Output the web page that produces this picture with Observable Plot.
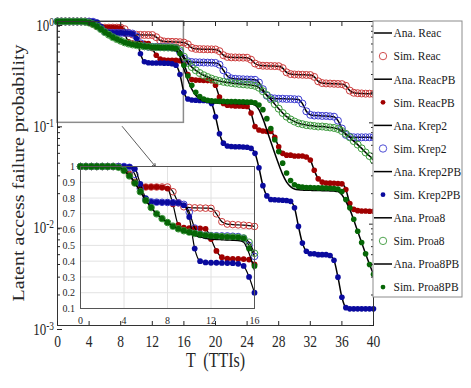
<!DOCTYPE html>
<html><head><meta charset="utf-8">
<script src="https://cdn.jsdelivr.net/npm/d3@7"></script>
<script src="https://cdn.jsdelivr.net/npm/@observablehq/plot@0.6"></script>
<style>
body{margin:0;background:#fff}
#wrap{position:relative;width:471px;height:388px;overflow:hidden}
#wrap svg{position:absolute;left:0;top:0}
</style></head><body><div id="wrap"></div>
<script>
// ---------- data ----------
const T = [0,0.5,1,1.5,2,2.5,3,3.5,4,4.5,5,5.5,6,6.5,7,7.5,8,8.5,9,9.5,10,10.5,11,11.5,12,12.5,13,13.5,14,14.5,15,15.5,16,16.5,17,17.5,18,18.5,19,19.5,20,20.5,21,21.5,22,22.5,23,23.5,24,24.5,25,25.5,26,26.5,27,27.5,28,28.5,29,29.5,30,30.5,31,31.5,32,32.5,33,33.5,34,34.5,35,35.5,36,36.5,37,37.5,38,38.5,39,39.5,40];

const reac = [1,1,1,1,1,1,1,1, 0.99,0.95,0.90,0.875,0.87, 0.87,0.87,0.87,0.87, 0.84,0.77,0.745,0.74, 0.738,0.737,0.736,0.735, 0.70,0.65,0.635,0.632,0.63,0.628,0.625,0.62, 0.595,0.55,0.537,0.534, 0.533,0.532,0.531,0.53, 0.51,0.465,0.447,0.443, 0.442,0.441,0.44,0.439, 0.42,0.385,0.37,0.366, 0.365,0.364,0.363,0.362, 0.347,0.315,0.303,0.3, 0.299,0.298,0.297,0.296, 0.284,0.257,0.247,0.245, 0.244,0.243,0.242,0.241, 0.232,0.208,0.198,0.196, 0.195,0.194,0.194,0.193];

const reacPB = [1,1,1,1,1,1,1,1, 0.99,0.95,0.90,0.875, 0.87,0.87,0.87,0.868,0.86, 0.76,0.63,0.612,0.61, 0.609,0.608,0.605, 0.54,0.465,0.425,0.416, 0.415,0.414,0.413,0.41, 0.38,0.30,0.268,0.264, 0.263,0.262,0.261,0.26, 0.235,0.18,0.155,0.149, 0.148,0.147,0.147,0.146,0.145, 0.125,0.092,0.085, 0.083,0.082,0.082, 0.072,0.058,0.05,0.048, 0.048,0.047,0.047,0.047,0.046, 0.043,0.034,0.028,0.026, 0.0255,0.0254,0.0253,0.0252,0.025, 0.022,0.016,0.014, 0.0136,0.0135,0.0135,0.0134,0.0134];

const krep2 = [1,1,1,1,1,1,1,1,1, 0.995,0.95,0.86,0.79,0.776,0.774,0.773,0.772,0.771,0.77,0.76, 0.71,0.61,0.57,0.563, 0.562,0.561,0.56,0.56,0.558,0.556, 0.545,0.50,0.43,0.405,0.398, 0.396,0.395,0.394,0.393,0.392,0.39, 0.375,0.33,0.29,0.275, 0.272,0.27,0.269,0.268,0.267,0.266, 0.25,0.215,0.185,0.176, 0.174,0.173,0.173,0.172,0.172,0.171,0.17, 0.155,0.13,0.12, 0.118,0.118,0.117,0.117,0.116,0.115, 0.105,0.088,0.076,0.073, 0.072,0.072,0.072,0.072,0.072,0.072];

const krep2PB = [1,1,1,1,1,1,1,1,1, 0.998,0.985,0.89,0.80,0.776,0.774,0.773,0.772,0.771,0.77,0.755, 0.68,0.48,0.40,0.392, 0.39,0.39,0.389,0.388,0.387,0.383, 0.37,0.30,0.20,0.172,0.168, 0.167,0.166,0.166,0.165,0.155, 0.115,0.078,0.063,0.059, 0.0585,0.058,0.058,0.0578,0.0575,0.056, 0.05,0.036,0.024,0.019, 0.0175,0.0174,0.0173,0.0172,0.0171,0.0168, 0.0145,0.0095,0.0065,0.0054, 0.0051,0.0051,0.005,0.005,0.005,0.0049, 0.0044,0.003,0.0019,0.0015, 0.00146,0.00146,0.00146,0.00146,0.00146,0.00146,0.00146];

const proa8 = [1,1,1,1,1,1,1, 0.995,0.975,0.94,0.895,0.84,0.785,0.74,0.70,0.67,0.645,0.622,0.605,0.593,0.584,0.576,0.569,0.564,0.56,0.558,0.556,0.554,0.553,0.551,0.547, 0.52,0.45,0.39,0.355,0.33,0.31,0.295,0.283,0.273,0.265,0.259,0.254,0.25,0.247,0.244,0.242,0.24,0.238,0.236,0.232, 0.222,0.205,0.188,0.17,0.153,0.138,0.125,0.115,0.108,0.103,0.099,0.097,0.095,0.094,0.093,0.092,0.092,0.091,0.09,0.089, 0.087,0.083,0.078,0.072,0.066,0.061,0.056,0.051,0.047,0.043];

const proa8PBSim = [1,1,1,1,1,1,1, 0.995,0.975,0.94,0.895,0.84,0.785,0.74,0.70,0.67,0.645,0.622,0.605,0.593,0.584,0.576,0.569,0.564,0.56,0.558,0.556,0.554,0.553,0.551, 0.545,0.48,0.37,0.29,0.235,0.2,0.182,0.172,0.167,0.165, 0.164,0.163,0.163,0.162,0.162,0.162,0.161,0.161,0.16,0.16, 0.158,0.15,0.135,0.11,0.088,0.068,0.052,0.04,0.032,0.027, 0.0245,0.0235,0.0232,0.023,0.023,0.0229,0.0228,0.0228,0.0227,0.0226, 0.0225,0.0222,0.021,0.0175,0.0145,0.0112,0.0085,0.0066,0.0051,0.004,0.0032];

const proa8PBAna = [1,1,1,1,1,1,1, 0.995,0.975,0.94,0.895,0.84,0.785,0.74,0.70,0.67,0.645,0.622,0.605, 0.59,0.578,0.565,0.553,0.545,0.54,0.537,0.535,0.533,0.532,0.53, 0.52,0.45,0.34,0.265,0.215,0.187,0.172,0.164,0.16,0.158, 0.157,0.156,0.156,0.155,0.155,0.155,0.154,0.154,0.153,0.153, 0.15,0.135,0.11,0.085,0.065,0.05,0.039,0.031,0.026,0.0235, 0.0222,0.0218,0.0217,0.0216,0.0216,0.0215,0.0215,0.0214,0.0214,0.0213, 0.0212,0.021,0.0195,0.0168,0.014,0.011,0.0085,0.0066,0.0051,0.004,0.0032];

const seriesNames = ["Reac","ReacPB","Krep2","Krep2PB","Proa8","Proa8PB"];
const seriesColors = ["#cc3b3b","#a00000","#3b3bd0","#0a0a9e","#3c9a3c","#066606"];
const seriesOpen = [true,false,true,false,true,false];
const anaValues = [reac, reacPB, krep2, krep2PB, proa8, proa8PBAna];
const simValues = [reac, reacPB, krep2, krep2PB, proa8, proa8PBSim];

const xTicks = [0,4,8,12,16,20,24,28,32,36,40];
const yMajor = [1e-3,1e-2,1e-1,1];
const yTickLabels = {"-3":"10^-3","-2":"10^-2","-1":"10^-1","0":"10^0"};
const yMinor = [2e-3,3e-3,4e-3,5e-3,6e-3,7e-3,8e-3,9e-3,2e-2,3e-2,4e-2,5e-2,6e-2,7e-2,8e-2,9e-2,0.2,0.3,0.4,0.5,0.6,0.7,0.8,0.9];
const insetXTicks = [0,4,8,12,16];
const insetYTicks = [0.1,0.2,0.3,0.4,0.5,0.6,0.7,0.8,0.9,1];
const zoomWindow = {t0:0, t1:16, p0:0.1, p1:1};
const arrowSpec = {t0:8.2, p0:0.092, t1:12.4, p1:0.037};
const xLabel = "T  (TTIs)";
const yLabel = "Latent access failure probability";

// ---------- drawing ----------
const W = 471, H = 388;
const FONT = "'Liberation Serif','Times New Roman',serif";

function seriesMarks(maxT, rOpen, rFill, lw) {
  const marks = [];
  seriesNames.forEach((name, k) => {
    const a = T.map((t,i)=>({t, p: anaValues[k][i]})).filter(d => d.t <= maxT);
    const s = T.map((t,i)=>({t, p: simValues[k][i]})).filter(d => d.t <= maxT);
    marks.push(Plot.line(a, {x:"t", y:"p", stroke:"black", strokeWidth:lw, curve:"monotone-x"}));
    marks.push(seriesOpen[k]
      ? Plot.dot(s, {x:"t", y:"p", r:rOpen, stroke:seriesColors[k], strokeWidth:1, fill:"none"})
      : Plot.dot(s, {x:"t", y:"p", r:rFill, fill:seriesColors[k], stroke:"none"}));
  });
  return marks;
}

const main = Plot.plot({
  width: W, height: H,
  marginLeft: 57, marginRight: 98, marginTop: 21, marginBottom: 63,
  style: {fontFamily: FONT, background: "white", color: "#262626"},
  x: {domain: [0, 40]},
  y: {type: "log", domain: [1e-3, 1]},
  marks: [
    Plot.rect([zoomWindow], {x1:"t0", x2:"t1", y1:"p0", y2:"p1", stroke:"#8c8c8c", strokeWidth:1.5, fill:"none"}),
    ...seriesMarks(40, 3.5, 2.8, 1.5),
    Plot.arrow([arrowSpec], {x1:"t0", y1:"p0", x2:"t1", y2:"p1", stroke:"#333", strokeWidth:0.8, headLength:6}),
    Plot.frame({stroke:"#333"}),
    Plot.axisX(xTicks, {anchor:"bottom", tickSize:-4, tickPadding:15, fontSize:13.5, label:null, tickFormat:d=>String(d)}),
    Plot.axisX(xTicks, {anchor:"top", tickSize:-4, tickFormat:()=>"", label:null}),
    Plot.axisY(yMajor, {anchor:"left", tickSize:-5, tickPadding:8.5, fontSize:13, dy:4, label:null,
      tickFormat:d=>yTickLabels[String(Math.round(Math.log10(d)))]}),
    Plot.axisY(yMinor, {anchor:"left", tickSize:-3, tickFormat:()=>"", label:null}),
    Plot.axisY(yMajor, {anchor:"right", tickSize:-5, tickFormat:()=>"", label:null}),
    Plot.axisY(yMinor, {anchor:"right", tickSize:-3, tickFormat:()=>"", label:null}),
    Plot.text([xLabel], {frameAnchor:"bottom", dy:40, fontSize:16, text:d=>d, fill:"#262626"})
  ]
});

const inset = Plot.plot({
  width: W, height: H,
  marginLeft: 80, marginRight: 217, marginTop: 166, marginBottom: 80,
  style: {fontFamily: FONT, background: "transparent", color: "#262626"},
  x: {domain: [0, 16]},
  y: {domain: [0.1, 1]},
  marks: [
    Plot.frame({fill:"white", stroke:"none"}),
    Plot.gridX(insetXTicks, {stroke:"#e2e2e2", strokeOpacity:1}),
    Plot.gridY(insetYTicks, {stroke:"#e2e2e2", strokeOpacity:1}),
    ...seriesMarks(16, 3.3, 2.9, 1.2),
    Plot.frame({stroke:"#555"}),
    Plot.axisX(insetXTicks, {anchor:"bottom", tickSize:0, tickPadding:8, fontSize:10, label:null, tickFormat:d=>String(d)}),
    Plot.axisY(insetYTicks, {anchor:"left", tickSize:0, tickPadding:5.5, fontSize:10, label:null,
      tickFormat:d=> d === 1 ? "1" : d.toFixed(1)})
  ]
});

// legend
const lg = d3.create("svg").attr("width", W).attr("height", H).style("pointer-events","none")
  .attr("font-family", FONT);
lg.append("rect").attr("x", 373).attr("y", 21).attr("width", 89).attr("height", 276)
  .attr("fill", "white").attr("stroke", "#8c8c8c");
seriesNames.forEach((name, k) => {
  const items = [{label:`Ana. ${name}`, kind:"line"}, {label:`Sim. ${name}`, kind: seriesOpen[k] ? "open" : "fill"}];
  items.forEach((it, j) => {
    const y = 33 + (2*k + j) * 23.1;
    if (it.kind === "line") lg.append("line").attr("x1", 374).attr("x2", 392).attr("y1", y).attr("y2", y)
      .attr("stroke", "black").attr("stroke-width", 1.5);
    else if (it.kind === "open") lg.append("circle").attr("cx", 383).attr("cy", y).attr("r", 3.7)
      .attr("fill", "none").attr("stroke", seriesColors[k]).attr("stroke-width", 0.9);
    else lg.append("circle").attr("cx", 383).attr("cy", y).attr("r", 2.4).attr("fill", seriesColors[k]);
    lg.append("text").attr("transform", `translate(393.5,${y}) scale(1,1.07)`).attr("dy", "0.35em")
      .attr("font-size", 11.5).attr("fill", "#1a1a1a").text(it.label);
  });
});

const wrap = document.getElementById("wrap");
wrap.appendChild(main);
wrap.appendChild(inset);
wrap.appendChild(lg.node());

// superscripts for log tick labels
main.querySelectorAll("text").forEach(t => {
  const m = /^10\^(.+)$/.exec(t.textContent);
  if (m) {
    t.textContent = "10";
    const ts = document.createElementNS("http://www.w3.org/2000/svg", "tspan");
    ts.setAttribute("dy", "-0.45em");
    ts.setAttribute("font-size", "0.72em");
    ts.textContent = m[1];
    t.appendChild(ts);
  }
});

// the reference's text is stretched vertically
function stretchAll(svg, k) {
  svg.querySelectorAll("text").forEach(t => {
    if (!t.textContent) return;
    const bb = t.getBBox();
    const cx = bb.x + bb.width / 2, cy = bb.y + bb.height / 2;
    const prev = t.getAttribute("transform") || "";
    t.setAttribute("transform", `${prev} translate(${cx},${cy}) scale(1,${k}) translate(${-cx},${-cy})`);
  });
}
stretchAll(main, 1.25);
stretchAll(inset, 1.12);

// y-axis title (rotated, stretched along its length like the reference)
d3.select(main).append("text")
  .attr("transform", "translate(18.5,173) scale(1,1.25) rotate(-90)")
  .attr("text-anchor", "middle").attr("dy", "0.32em")
  .attr("font-family", FONT).attr("font-size", 16).attr("fill", "#262626")
  .text(yLabel);
</script></body></html>
